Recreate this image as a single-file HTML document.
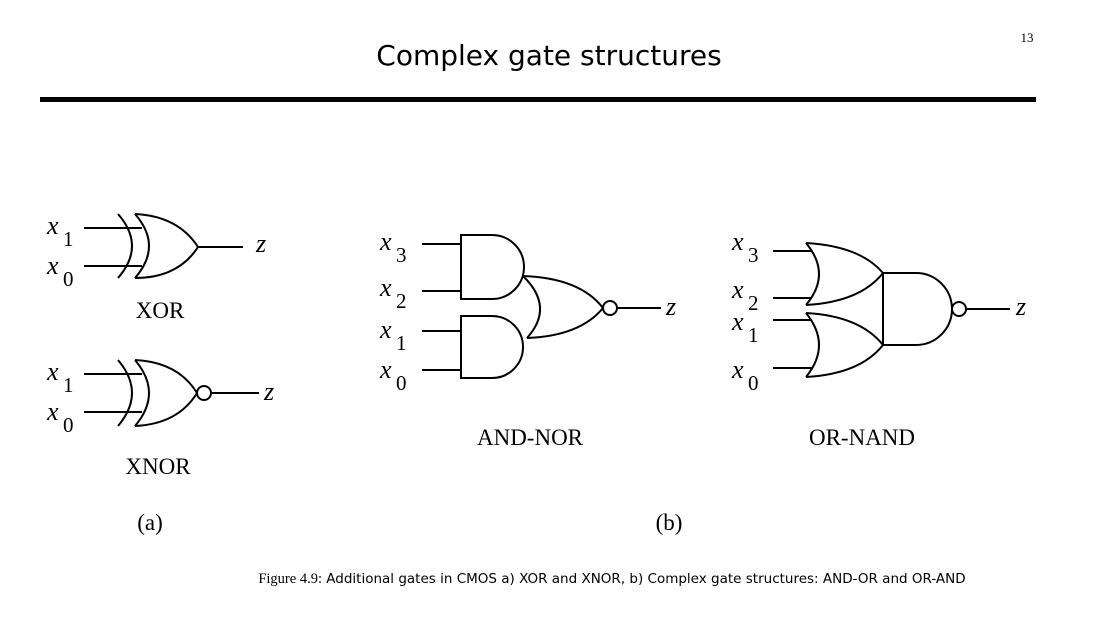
<!DOCTYPE html>
<html><head><meta charset="utf-8"><style>
html,body{margin:0;padding:0;background:#fff;}
body{width:1098px;height:616px;position:relative;overflow:hidden;}
</style></head><body>
<svg width="1098" height="616" viewBox="0 0 1098 616" xmlns="http://www.w3.org/2000/svg">
<text x="549" y="65" text-anchor="middle" font-family="DejaVu Sans, Liberation Sans, sans-serif" font-size="28" fill="#000">Complex gate structures</text>
<text x="1027" y="42" text-anchor="middle" font-family="Liberation Serif, serif" font-size="13" fill="#000">13</text>
<rect x="40" y="97" width="996" height="5" fill="#000"/>

<g fill="none" stroke="#000" stroke-width="2">
<path d="M84 228H142M84 266H142"/>
<path d="M118 214Q146 246 118 278"/>
<path d="M135 214Q163 246 135 278"/>
<path d="M135 214Q178 216 198 247Q178 278 135 278"/>
<path d="M198 247H243"/>
<path d="M84 374H142M84 412H142"/>
<path d="M118 360Q146 393 118 426"/>
<path d="M135 360Q163 393 135 426"/>
<path d="M135 360Q178 362 197 393Q178 424 135 426"/>
<circle cx="204" cy="393" r="7"/>
<path d="M211 393H259"/>
<path d="M422 244H461M422 291H461M422 331H461M422 370H461"/>
<path d="M461 235H492A32 32 0 0 1 492 299H461Z"/>
<path d="M461 316H492A31 31 0 0 1 492 378H461Z"/>
<path d="M523 276Q555 307 527 338"/>
<path d="M523 276Q580 278 603 308Q580 336 527 338"/>
<circle cx="610" cy="308" r="7"/>
<path d="M617 308H661"/>
<path d="M773 251H812M773 298H812M773 320H812M773 368H812"/>
<path d="M806 243Q832 274 806 305"/>
<path d="M806 243Q860 246 883 273Q860 302 806 305"/>
<path d="M806 313Q832 345 806 377"/>
<path d="M806 313Q860 316 883 345Q860 374 806 377"/>
<path d="M883 273H916A36 36 0 0 1 916 345H883Z"/>
<circle cx="959" cy="309" r="7"/>
<path d="M966 309H1010"/>
</g>

<g font-family="Liberation Serif, serif" font-size="26" font-style="italic" fill="#000">
<text x="47" y="234">x</text><text x="47" y="274">x</text>
<text x="47" y="380">x</text><text x="47" y="420">x</text>
<text x="380" y="250">x</text><text x="380" y="296">x</text>
<text x="380" y="338">x</text><text x="380" y="378">x</text>
<text x="732" y="250">x</text><text x="732" y="298">x</text>
<text x="732" y="330">x</text><text x="732" y="378">x</text>
<text x="256" y="252">z</text><text x="264" y="400">z</text>
<text x="666" y="315">z</text><text x="1016" y="315">z</text>
</g>
<g font-family="Liberation Serif, serif" font-size="21" fill="#000">
<text x="63" y="246">1</text><text x="63" y="286">0</text>
<text x="63" y="392">1</text><text x="63" y="432">0</text>
<text x="396" y="262">3</text><text x="396" y="308">2</text>
<text x="396" y="350">1</text><text x="396" y="390">0</text>
<text x="748" y="262">3</text><text x="748" y="310">2</text>
<text x="748" y="342">1</text><text x="748" y="390">0</text>
</g>
<g font-family="Liberation Serif, serif" font-size="23" fill="#000" text-anchor="middle">
<text x="160" y="318">XOR</text>
<text x="158" y="474">XNOR</text>
<text x="530" y="445">AND-NOR</text>
<text x="862" y="445">OR-NAND</text>
<text x="150" y="530">(a)</text>
<text x="669" y="530">(b)</text>
</g>
<text x="612" y="583" text-anchor="middle" font-family="DejaVu Sans, Liberation Sans, sans-serif" font-size="13.5" fill="#000"><tspan font-family="Liberation Serif, serif" font-size="14.5">Figure 4.9:</tspan> Additional gates in CMOS a) XOR and XNOR, b) Complex gate structures: AND-OR and OR-AND</text>
</svg>
</body></html>
